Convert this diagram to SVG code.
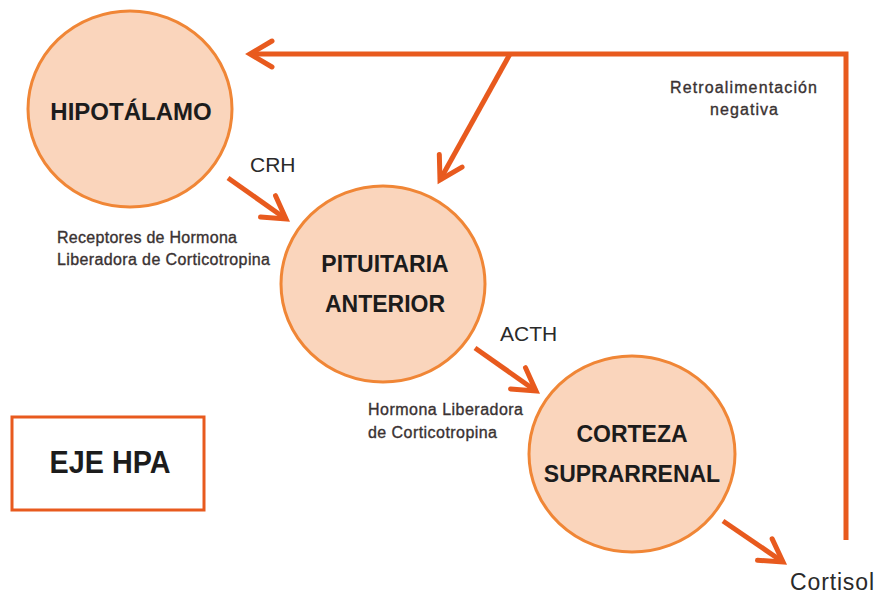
<svg xmlns="http://www.w3.org/2000/svg" width="881" height="594" viewBox="0 0 881 594">
<style>
.node{fill:#FAD5BC;stroke:#F08636;stroke-width:3}
.lbl{font-family:"Liberation Sans",Arial,sans-serif;font-weight:bold;font-size:23px;fill:#1c1c1c;text-anchor:middle}
.hl{font-family:"Liberation Sans",Arial,sans-serif;font-size:21px;fill:#2a2a2a}
.sm{font-family:"Liberation Sans",Arial,sans-serif;font-size:16px;fill:#3a3232;stroke:#3a3232;stroke-width:0.35}
.arr{fill:none;stroke:#E85A1E;stroke-width:5;marker-end:url(#chev)}
</style>
<defs>
<marker id="chev" markerUnits="userSpaceOnUse" viewBox="-30 -20 40 40" markerWidth="40" markerHeight="40" refX="0" refY="0" orient="auto" overflow="visible">
<path d="M-22,-13 L0,0 L-22,13" fill="none" stroke="#E85A1E" stroke-width="5" stroke-linecap="round" stroke-linejoin="miter"/>
</marker>
</defs>
<rect width="881" height="594" fill="#ffffff"/>
<g id="connectors">
<path class="arr" d="M846,540 L846,54 L250,54"/>
<path class="arr" d="M510,54 L440,180"/>
<path class="arr" d="M228,178 L286,219"/>
<path class="arr" d="M475,348 L536,391"/>
<path class="arr" d="M723,521 L783,562"/>
</g>
<g id="hipotalamo">
<ellipse class="node" cx="130" cy="109" rx="102" ry="98"/>
<text class="lbl" x="131" y="120" style="font-size:24px">HIPOTÁLAMO</text>
</g>
<g id="pituitaria">
<ellipse class="node" cx="383" cy="284" rx="102" ry="98"/>
<text class="lbl" x="385" y="272">PITUITARIA</text>
<text class="lbl" x="385" y="312">ANTERIOR</text>
</g>
<g id="corteza">
<ellipse class="node" cx="632" cy="454" rx="103" ry="98"/>
<text class="lbl" x="632" y="442">CORTEZA</text>
<text class="lbl" x="632" y="482">SUPRARRENAL</text>
</g>
<g id="eje-hpa">
<rect x="12" y="417" width="192" height="93" fill="#ffffff" stroke="#E85A1E" stroke-width="3"/>
<text class="lbl" x="110" y="473" style="font-size:31px" textLength="121" lengthAdjust="spacingAndGlyphs">EJE HPA</text>
</g>
<g id="labels">
<text class="hl" x="250" y="172">CRH</text>
<text class="hl" x="500" y="341">ACTH</text>
<text class="hl" x="790" y="590" style="font-size:23px" textLength="84">Cortisol</text>
<text class="sm" x="57" y="243" textLength="180">Receptores de Hormona</text>
<text class="sm" x="57" y="265" textLength="213">Liberadora de Corticotropina</text>
<text class="sm" x="368" y="415" textLength="155">Hormona Liberadora</text>
<text class="sm" x="368" y="438" textLength="129">de Corticotropina</text>
<text class="sm" x="670" y="93" textLength="147">Retroalimentación</text>
<text class="sm" x="710" y="115" textLength="68">negativa</text>
</g>
</svg>
